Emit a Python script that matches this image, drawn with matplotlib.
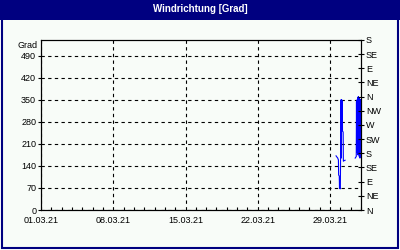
import numpy as np
import pandas as pd
import matplotlib
matplotlib.use("Agg")
import matplotlib.pyplot as plt
import matplotlib.dates as mdates
from matplotlib.patches import Rectangle

plt.rcParams['font.family'] = ['Liberation Sans', 'DejaVu Sans']

# Messwerte Windrichtung (Grad)
zeit = pd.to_datetime([
    "2021-03-29 14:00", "2021-03-29 16:00", "2021-03-29 17:30", "2021-03-29 19:30",
    "2021-03-29 20:00", "2021-03-29 21:30", "2021-03-29 22:00", "2021-03-29 23:30",
    "2021-03-30 00:00", "2021-03-30 01:30", "2021-03-30 02:00", "2021-03-30 03:00",
    "2021-03-30 04:30", "2021-03-30 05:00", "2021-03-30 06:30", "2021-03-30 07:00",
    "2021-03-30 09:00", "2021-03-30 11:00",
    "2021-03-30 22:00",
    "2021-03-31 10:30", "2021-03-31 12:00", "2021-03-31 13:00", "2021-03-31 13:30",
    "2021-03-31 14:00", "2021-03-31 15:00", "2021-03-31 15:30", "2021-03-31 16:30",
    "2021-03-31 17:00", "2021-03-31 18:00", "2021-03-31 18:30", "2021-03-31 19:30",
    "2021-03-31 20:00", "2021-03-31 21:00", "2021-03-31 21:30", "2021-03-31 22:00",
])
grad = np.array([
    172, 168, 166, 159,
    111, 108, 70, 67,
    72, 350, 165, 350,
    345, 250, 248, 155,
    157, 158,
    np.nan,
    165, 168, 170, 344,
    185, 350, 200, 358,
    175, 360, 190, 355,
    170, 352, 165, 350,
])

datum_ticks = pd.to_datetime(["2021-03-01", "2021-03-08", "2021-03-15", "2021-03-22", "2021-03-29"])
links_ticks = [0, 70, 140, 210, 280, 350, 420, 490]
rechts_ticks = [0, 45, 90, 135, 180, 225, 270, 315, 360, 405, 450, 495, 540]
himmelsrichtung = ['N', 'NE', 'E', 'SE', 'S', 'SW', 'W', 'NW', 'N', 'NE', 'E', 'SE', 'S']

navy = '#000080'
hg = '#f8fcf8'

fig = plt.figure(figsize=(4, 2.5), dpi=100)
fig.patch.set_facecolor('white')

# Rahmen + Titelleiste
fig.patches.append(Rectangle((0.004, 0.008), 0.99, 0.92, transform=fig.transFigure,
                             facecolor=hg, edgecolor=navy, linewidth=1.5, zorder=-10))
fig.patches.append(Rectangle((0, 0.92), 1, 0.08, transform=fig.transFigure,
                             facecolor=navy, edgecolor='none', zorder=-5))
fig.text(0.5, 0.962, 'Windrichtung [Grad]', color='white', fontsize=7,
         fontweight='bold', ha='center', va='center')

ax = fig.add_axes([0.1025, 0.16, 0.8, 0.68])
ax.set_facecolor(hg)
ax.plot(zeit, grad, color='#0000ff', linewidth=0.8)

ax.set_xlim(pd.Timestamp("2021-03-01"), pd.Timestamp("2021-04-01"))
ax.set_ylim(0, 540)
ax.set_yticks(links_ticks)
ax.set_xticks(datum_ticks)
ax.xaxis.set_major_formatter(mdates.DateFormatter('%d.%m.%y'))
ax.xaxis.set_minor_locator(mdates.DayLocator())
ax.grid(True, which='major', color='black', linestyle=(0, (3, 3)), linewidth=0.8)
ax.tick_params(axis='x', which='major', length=0, labelsize=6.5, pad=4)
ax.tick_params(axis='x', which='minor', direction='in', length=2.5, width=0.8)
ax.tick_params(axis='y', direction='out', length=2, width=0.8, labelsize=6.5, pad=1.5)
for s in ax.spines.values():
    s.set_linewidth(0.8)

ax.text(-0.012, 0.995, 'Grad', transform=ax.transAxes, ha='right', va='top', fontsize=6.5)

ax2 = ax.twinx()
ax2.set_ylim(0, 540)
ax2.set_yticks(rechts_ticks)
ax2.set_yticklabels(himmelsrichtung)
ax2.tick_params(axis='y', direction='inout', length=5, width=0.8, labelsize=6.5, pad=1)
for s in ax2.spines.values():
    s.set_linewidth(0.8)

fig.savefig('out.png', dpi=100, facecolor=fig.get_facecolor())
